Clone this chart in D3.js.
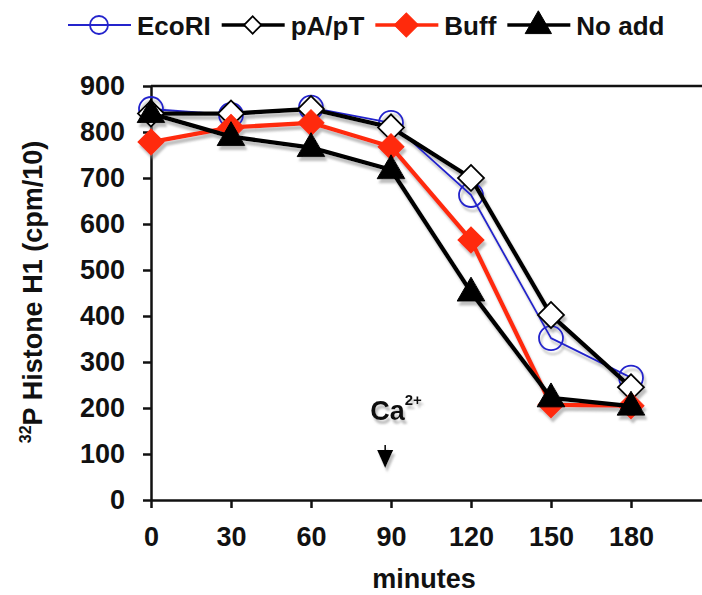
<!DOCTYPE html>
<html>
<head>
<meta charset="utf-8">
<script src="https://cdn.jsdelivr.net/npm/d3@7"></script>
<style>
  body { margin: 0; background: #fff; }
  text { font-family: "Liberation Sans", Arial, Helvetica, sans-serif; font-weight: bold; fill: #111; }
</style>
</head>
<body>
<svg id="chart"></svg>
<script>
// ---- data ----
const minutes = [0, 30, 60, 90, 120, 150, 180]
const ecori = [850, 837, 853, 820, 663, 352, 266]
const papt = [840, 840, 850, 810, 700, 402, 245]
const buff = [778, 810, 820, 768, 565, 207, 205]
const noAdd = [840, 790, 766, 718, 452, 222, 204]
const yTicks = [0, 100, 200, 300, 400, 500, 600, 700, 800, 900]
const caTime = 88
const caLevel = 100

const width = 702
const height = 595

const svg = d3.select('#chart')
  .attr('width', width)
  .attr('height', height)

svg.append('defs').append('filter')
    .attr('id', 'shadow')
    .attr('x', '-10%').attr('y', '-10%')
    .attr('width', '130%').attr('height', '130%')
  .append('feDropShadow')
    .attr('dx', 2).attr('dy', 4)
    .attr('stdDeviation', 1.3)
    .attr('flood-color', '#888')
    .attr('flood-opacity', 0.55)

const x = d3.scaleLinear().domain([0, 210]).range([151, 711])
const y = d3.scaleLinear().domain([0, 900]).range([500, 86])

// series styles
const series = [
  { name: 'EcoRI', values: ecori, color: '#2424cc', lw: 1.8, shape: 'circle', fill: 'none', mstroke: '#2424cc' },
  { name: 'pA/pT', values: papt, color: '#000', lw: 4.3, shape: 'diamond', fill: '#fff', mstroke: '#000' },
  { name: 'Buff', values: buff, color: '#ff2a0c', lw: 4.3, shape: 'diamond', fill: '#ff2a0c', mstroke: '#ff2a0c' },
  { name: 'No add', values: noAdd, color: '#000', lw: 4.3, shape: 'triangle', fill: '#000', mstroke: '#000' }
]

function drawMarker(g, s, big) {
  if (s.shape === 'circle') {
    g.append('circle')
      .attr('r', big ? 12 : 9)
      .attr('fill', 'none')
      .attr('stroke', s.mstroke)
      .attr('stroke-width', 1.8)
  } else if (s.shape === 'diamond') {
    const open = s.fill === '#fff'
    const size = big ? 340 : (open ? 150 : 290)
    g.append('path')
      .attr('d', d3.symbol(d3.symbolSquare, size)())
      .attr('transform', 'rotate(45)')
      .attr('fill', s.fill)
      .attr('stroke', s.mstroke)
      .attr('stroke-width', open ? 1.8 : 1)
  } else {
    g.append('path')
      .attr('d', d3.symbol(d3.symbolTriangle, big ? 330 : 300)())
      .attr('transform', 'translate(0,1)')
      .attr('fill', s.fill)
      .attr('stroke', s.mstroke)
      .attr('stroke-width', 1)
  }
}

// ---- axes ----
const yAxis = d3.axisLeft(y).tickValues(yTicks).tickSize(8).tickSizeOuter(0).tickPadding(18)
const xAxis = d3.axisBottom(x).tickValues(minutes).tickSize(8).tickSizeOuter(0).tickPadding(19)

const gy = svg.append('g').attr('transform', `translate(${x(0)},0)`).call(yAxis)
const gx = svg.append('g').attr('transform', `translate(0,${y(0)})`).call(xAxis)

;[gx, gy].forEach(g => {
  g.select('.domain').attr('stroke', '#111').attr('stroke-width', 2.5)
  g.selectAll('.tick line').attr('stroke', '#111').attr('stroke-width', 2.5)
  g.selectAll('.tick text')
    .attr('fill', '#111')
    .style('font-size', '27px')
    .style('font-family', '"Liberation Sans", Arial, sans-serif')
    .style('font-weight', 'bold')
})

// top frame line
svg.append('line')
  .attr('x1', x(0)).attr('x2', x(210))
  .attr('y1', y(900)).attr('y2', y(900))
  .attr('stroke', '#111').attr('stroke-width', 2.5)

// axis titles
svg.append('text')
  .attr('x', 424).attr('y', 588)
  .attr('text-anchor', 'middle')
  .style('font-size', '27px')
  .text('minutes')

const yt = svg.append('text')
  .attr('transform', 'translate(42,292) rotate(-90)')
  .attr('text-anchor', 'middle')
  .style('font-size', '27px')
yt.append('tspan').attr('dy', -11).style('font-size', '16px').text('32')
yt.append('tspan').attr('dy', 11).text('P Histone H1 (cpm/10)')

// ---- series ----
const plot = svg.append('g').attr('filter', 'url(#shadow)')
const line = d3.line().x((d, i) => x(minutes[i])).y(d => y(d))

series.forEach(s => {
  plot.append('path')
    .datum(s.values)
    .attr('d', line)
    .attr('fill', 'none')
    .attr('stroke', s.color)
    .attr('stroke-width', s.lw)
    .attr('stroke-linejoin', 'round')
  s.values.forEach((v, i) => {
    const g = plot.append('g').attr('transform', `translate(${x(minutes[i])},${y(v)})`)
    drawMarker(g, s, true)
  })
})

// Ca2+ annotation
const ca = svg.append('g')
  .attr('transform', `translate(${x(caTime) - 0.5},${y(caLevel)})`)
  .attr('filter', 'url(#shadow)')
ca.append('line').attr('x1', 0).attr('x2', 0).attr('y1', -9).attr('y2', -3).attr('stroke', '#000').attr('stroke-width', 1.5)
ca.append('path')
  .attr('d', 'M-8,-4L8,-4L0,14Z')
  .attr('fill', '#000')
const caText = ca.append('text').attr('x', -15).attr('y', -34).style('font-size', '27px')
caText.append('tspan').text('Ca')
caText.append('tspan').attr('dy', -15).style('font-size', '15px').text('2+')

// ---- legend ----
const legend = svg.append('g').attr('transform', 'translate(0,25)')
let lx = 68
series.forEach(s => {
  const g = legend.append('g')
  g.append('line')
    .attr('x1', lx).attr('x2', lx + 63)
    .attr('stroke', s.color)
    .attr('stroke-width', s.lw > 4 ? 3.5 : 1.8)
  const m = g.append('g').attr('transform', `translate(${lx + 31},0)`)
  drawMarker(m, s, false)
  const t = g.append('text')
    .attr('x', lx + 69).attr('y', 10)
    .style('font-size', '26px')
    .text(s.name)
  lx = lx + 69 + t.node().getComputedTextLength() + 11
})
</script>
</body>
</html>
